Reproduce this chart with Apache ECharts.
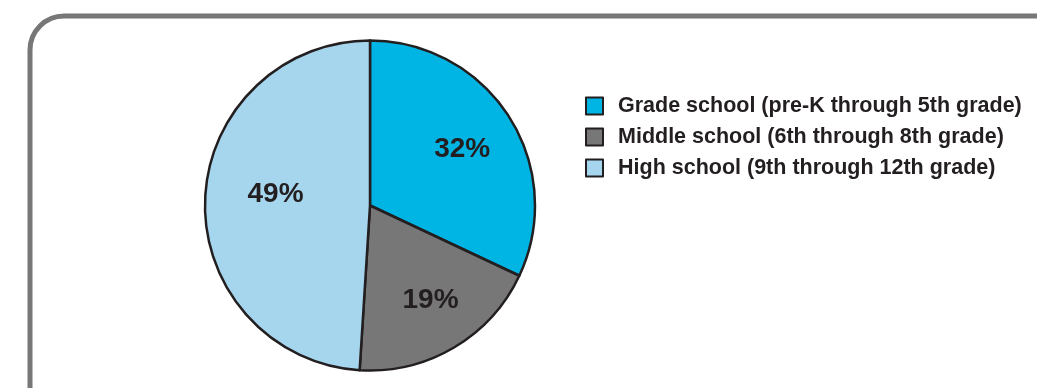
<!DOCTYPE html>
<html>
<head>
<meta charset="utf-8">
<script src="https://cdn.jsdelivr.net/npm/echarts@6/dist/echarts.min.js"></script>
<style>
html, body { margin: 0; padding: 0; background: #fff; }
#grade-pie { width: 1037px; height: 388px; }
</style>
</head>
<body>
<div id="grade-pie"></div>
<script>
// data
const categories = [
  'Grade school (pre-K through 5th grade)',
  'Middle school (6th through 8th grade)',
  'High school (9th through 12th grade)'
]
const shares = [32, 19, 49]
const colors = ['#00b4e3', '#777777', '#a6d6ee']

// nudges so the labels sit where the original puts them
const labelShift = [[20, -10], [17, 21], [-9, -9]]

const chart = echarts.init(document.getElementById('grade-pie'))
const options = {
  animation: false,
  textStyle: { fontFamily: 'Liberation Sans, Arial, sans-serif' },
  graphic: [
    {
      type: 'rect',
      shape: { x: 30, y: 16, width: 1100, height: 500, r: 34 },
      style: { fill: 'none', stroke: '#777', lineWidth: 5 },
      silent: true
    }
  ],
  legend: {
    orient: 'vertical',
    left: 585,
    top: 95,
    padding: 0,
    itemWidth: 17,
    itemHeight: 17,
    itemGap: 9,
    icon: 'rect',
    selectedMode: false,
    data: categories,
    textStyle: {
      fontSize: 21.5,
      fontWeight: 'bold',
      color: '#231f20',
      lineHeight: 21,
      padding: [0, 0, 0, 10]
    }
  },
  series: [
    {
      type: 'pie',
      center: [370, 205.5],
      radius: 165,
      startAngle: 90,
      clockwise: true,
      silent: true,
      itemStyle: { borderColor: '#231f20', borderWidth: 2.5 },
      label: {
        show: true,
        position: 'inner',
        formatter: '{c}%',
        fontSize: 28,
        fontWeight: 'bold',
        color: '#231f20'
      },
      labelLine: { show: false },
      labelLayout: function (params) {
        const s = labelShift[params.dataIndex]
        return { dx: s[0], dy: s[1] }
      },
      data: categories.map((name, i) => ({
        name: name,
        value: shares[i],
        itemStyle: { color: colors[i] }
      }))
    }
  ]
}
chart.setOption(options)
</script>
</body>
</html>
